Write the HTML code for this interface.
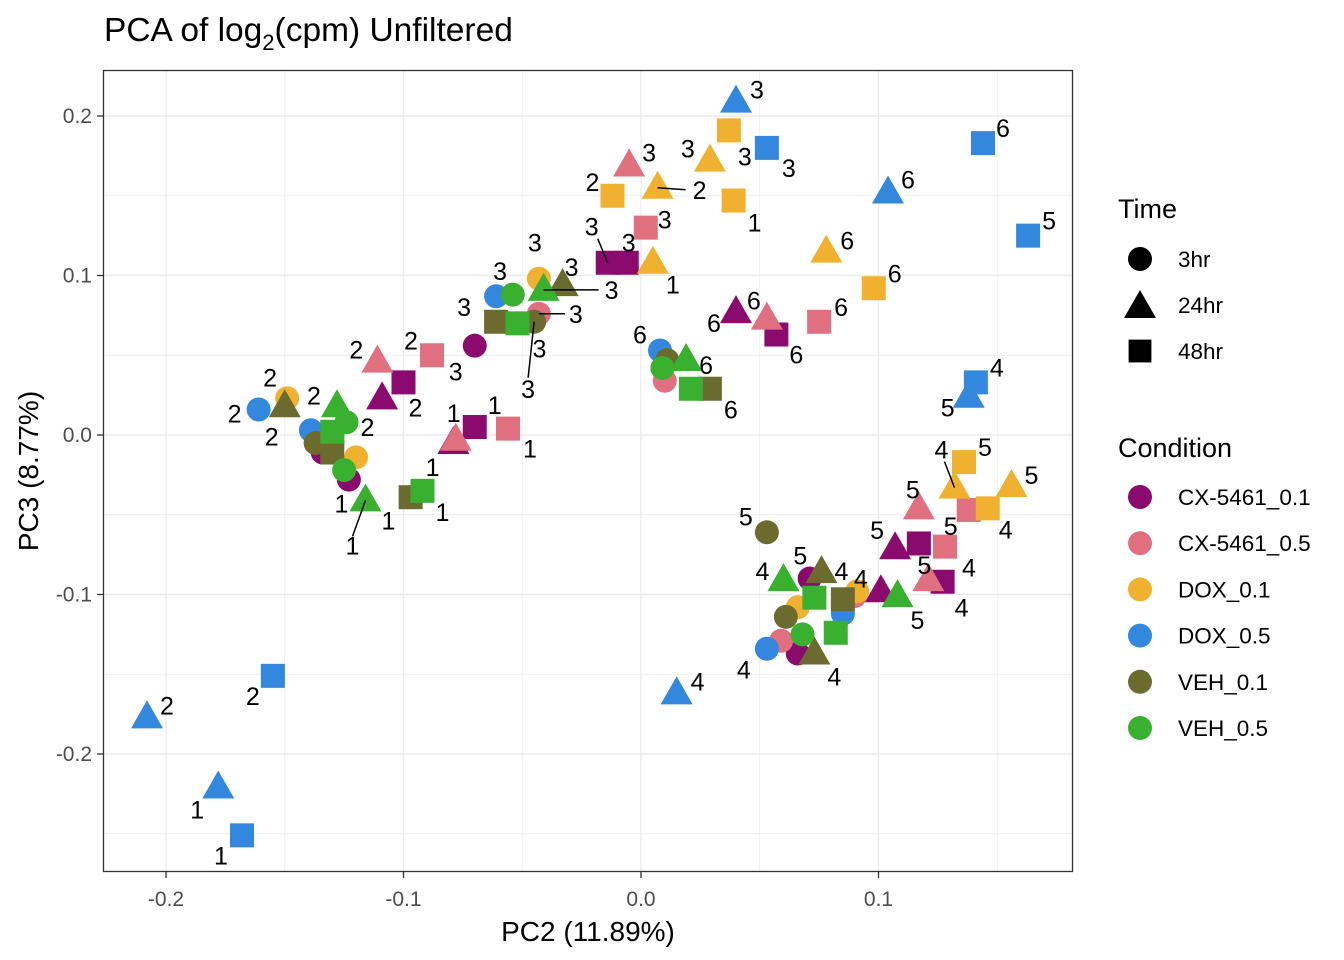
<!DOCTYPE html>
<html><head><meta charset="utf-8"><style>
body{margin:0;background:#fff;}
svg{display:block;font-family:"Liberation Sans",Arial,sans-serif;}
</style></head><body>
<svg id="chart" width="1344" height="960" viewBox="0 0 1344 960" xmlns="http://www.w3.org/2000/svg">
<rect width="1344" height="960" fill="#fff"/>
<text x="104" y="41" font-size="33.5" fill="#000">PCA of log<tspan font-size="22" dy="9">2</tspan><tspan dy="-9">(cpm) Unfiltered</tspan></text>
<g id="grid"></g>
<g id="marks"></g>
<g id="labels"></g>
<rect x="103.5" y="70.5" width="969" height="801" fill="none" stroke="#333" stroke-width="1.3"/>
<g id="axes"></g>
<text x="588" y="941" font-size="28" text-anchor="middle">PC2 (11.89%)</text>
<text transform="translate(38,471) rotate(-90)" font-size="28" text-anchor="middle">PC3 (8.77%)</text>
<g id="legend"></g>
</svg>
<script>
const conditions=["CX-5461_0.1","CX-5461_0.5","DOX_0.1","DOX_0.5","VEH_0.1","VEH_0.5"];
const condColors=["#8B0A6E","#E07080","#F0B030","#3388DD","#6B6B30","#3AB030"];
const times=["3hr","24hr","48hr"];
const xTicks=[-0.2,-0.1,0.0,0.1];
const xTickLabels=["-0.2","-0.1","0.0","0.1"];
const yTicks=[-0.2,-0.1,0.0,0.1,0.2];
const yTickLabels=["-0.2","-0.1","0.0","0.1","0.2"];
// points: [pc2, pc3, timeIndex(0 circle,1 tri,2 square), condIndex, label, labelDx, labelDy]
const pc2=[], pc3=[];
const points=[
[-0.014,0.108,2,0,"3",-16,-36],[-0.006,0.108,2,0,"3",2,-20],[-0.070,0.056,0,0,"3",-19,26],[-0.100,0.033,2,0,"2",12,25],[-0.109,0.023,1,0,"",0,0],[-0.070,0.005,2,0,"1",20,-22],[-0.079,-0.005,1,0,"",0,0],[-0.134,-0.011,0,0,"",0,0],[-0.123,-0.028,0,0,"",0,0],[0.040,0.077,1,0,"6",-22,11],[0.057,0.063,2,0,"6",20,20],[0.107,-0.071,1,0,"5",-18,-18],[0.117,-0.068,2,0,"",0,0],[0.101,-0.098,1,0,"4",-20,-13],[0.127,-0.092,2,0,"4",19,26],[0.071,-0.090,0,0,"",0,0],[0.066,-0.137,0,0,"",0,0],
[-0.005,0.169,1,1,"3",20,-13],[0.002,0.130,2,1,"3",19,-8],[-0.043,0.076,0,1,"3",37,0],[-0.111,0.046,1,1,"2",-21,-12],[-0.088,0.050,2,1,"2",-21,-15],[-0.078,-0.003,1,1,"1",-2,-27],[-0.056,0.004,2,1,"1",22,20],[0.053,0.073,1,1,"6",-13,-18],[0.075,0.071,2,1,"6",22,-15],[0.010,0.034,0,1,"",0,0],[0.117,-0.046,1,1,"5",-6,-19],[0.138,-0.047,2,1,"5",-18,16],[0.128,-0.070,2,1,"4",24,21],[0.121,-0.091,1,1,"5",-4,-15],[0.059,-0.129,0,1,"",0,0],[0.090,-0.101,0,1,"",0,0],
[0.037,0.191,2,2,"3",16,26],[0.029,0.172,1,2,"3",-22,-12],[0.007,0.155,1,2,"2",42,2],[-0.012,0.150,2,2,"2",-20,-14],[0.039,0.147,2,2,"1",21,22],[0.005,0.108,1,2,"1",20,22],[0.078,0.115,1,2,"6",21,-11],[0.098,0.092,2,2,"6",21,-15],[-0.043,0.098,0,2,"3",-4,-36],[-0.149,0.023,0,2,"2",-17,-21],[-0.120,-0.014,0,2,"",0,0],[0.136,-0.017,2,2,"5",21,-15],[0.132,-0.033,1,2,"4",-13,-38],[0.156,-0.032,1,2,"5",20,-11],[0.146,-0.046,2,2,"4",18,21],[0.066,-0.108,0,2,"",0,0],[0.091,-0.098,0,2,"",0,0],
[0.040,0.209,1,3,"3",21,-12],[0.053,0.180,2,3,"3",22,20],[0.144,0.183,2,3,"6",20,-15],[0.163,0.125,2,3,"5",21,-15],[0.104,0.152,1,3,"6",20,-13],[0.141,0.033,2,3,"4",21,-15],[0.138,0.024,1,3,"5",-21,11],[0.015,-0.162,1,3,"4",21,-12],[-0.208,-0.177,1,3,"2",20,-12],[-0.155,-0.151,2,3,"2",-20,20],[-0.178,-0.221,1,3,"1",-21,22],[-0.168,-0.251,2,3,"1",-21,20],[-0.061,0.087,0,3,"3",4,-25],[-0.161,0.016,0,3,"2",-24,4],[-0.139,0.003,0,3,"",0,0],[0.008,0.053,0,3,"6",-20,-16],[0.053,-0.134,0,3,"4",-23,21],[0.085,-0.112,0,3,"",0,0],
[-0.033,0.094,1,4,"3",9,-18],[-0.061,0.071,2,4,"3",-32,-15],[-0.045,0.071,0,4,"3",-6,67],[0.029,0.029,2,4,"6",21,21],[0.011,0.047,0,4,"",0,0],[-0.137,-0.005,0,4,"",0,0],[-0.130,-0.011,2,4,"",0,0],[-0.097,-0.039,2,4,"1",22,-30],[0.053,-0.061,0,4,"5",-21,-16],[0.076,-0.086,1,4,"4",20,-1],[0.061,-0.114,0,4,"",0,0],[0.085,-0.103,2,4,"",0,0],[0.073,-0.137,1,4,"4",20,23],[-0.150,0.018,1,4,"2",-13,30],[-0.130,-0.001,2,4,"",0,0],
[-0.054,0.088,0,5,"",0,0],[-0.052,0.070,2,5,"3",22,25],[-0.041,0.091,1,5,"3",68,0],[0.019,0.047,1,5,"6",20,5],[0.009,0.042,0,5,"",0,0],[0.021,0.029,2,5,"",0,0],[-0.128,0.018,1,5,"2",-23,-11],[-0.130,0.002,2,5,"",0,0],[-0.124,0.008,0,5,"2",21,5],[-0.125,-0.022,0,5,"",0,0],[-0.092,-0.035,2,5,"1",20,21],[-0.116,-0.041,1,5,"1",-24,3],[0.060,-0.091,1,5,"4",-21,-9],[0.073,-0.102,2,5,"5",-14,-42],[0.108,-0.101,1,5,"5",20,24],[0.082,-0.124,2,5,"",0,0],[0.068,-0.125,0,5,"",0,0]
];
points.forEach(p=>{pc2.push(p[0]);pc3.push(p[1]);});
const extraLabels=[[-0.116,-0.041,"1",-13,45],[-0.116,-0.041,"1",23,20]];
const connectors=[[-0.116,-0.041,-13,36],[0.007,0.155,28,2],[-0.045,0.071,-6,56],[-0.014,0.108,-10,-24],[0.132,-0.033,-10,-26],[-0.043,0.076,26,0],[-0.041,0.091,55,0]];

const X=v=>641+v*2375, Y=v=>435-v*1595;
const NS="http://www.w3.org/2000/svg";
function mk(tag,attrs,parent){const e=document.createElementNS(NS,tag);for(const k in attrs)e.setAttribute(k,attrs[k]);parent.appendChild(e);return e;}
const grid=document.getElementById('grid');
mk('rect',{x:103,y:70,width:970,height:802,fill:'#fff'},grid);
for(let v=-0.25;v<=0.151;v+=0.05){const x=X(v);if(x<103||x>1073)continue;const major=Math.abs(Math.round(v*20))%2===0;
 const l=mk('line',{x1:x,x2:x,y1:70,y2:872,stroke:'#ebebeb','stroke-width':major?1.4:0.7},grid);
 
 }
for(let v=-0.25;v<=0.251;v+=0.05){const y=Y(v);if(y<70||y>872)continue;const major=Math.abs(Math.round(v*20))%2===0;
 const l=mk('line',{y1:y,y2:y,x1:103,x2:1073,stroke:'#ebebeb','stroke-width':major?1.4:0.7},grid);
 
 }
const axes=document.getElementById('axes');
xTicks.forEach((v,i)=>{const x=X(v);mk('line',{x1:x,x2:x,y1:872,y2:878,stroke:'#333','stroke-width':1.3},axes);
 const t=mk('text',{x:x,y:906,'font-size':21,fill:'#4d4d4d','text-anchor':'middle'},axes);t.textContent=xTickLabels[i];
 
 });
yTicks.forEach((v,i)=>{const y=Y(v);mk('line',{x1:97,x2:103,y1:y,y2:y,stroke:'#333','stroke-width':1.3},axes);
 const t=mk('text',{x:92,y:y+7,'font-size':21,fill:'#4d4d4d','text-anchor':'end'},axes);t.textContent=yTickLabels[i];
 
 });
function shape(parent,shp,cx,cy,col,s){let e;
 if(shp===0)e=mk('circle',{cx:cx,cy:cy,r:12*s,fill:col},parent);
 else if(shp===1)e=mk('polygon',{points:`${cx},${cy-17*s} ${cx-16*s},${cy+11*s} ${cx+16*s},${cy+11*s}`,fill:col},parent);
 else e=mk('rect',{x:cx-12*s,y:cy-12*s,width:24*s,height:24*s,fill:col},parent);
 return e;}
const marks=document.getElementById('marks'), labels=document.getElementById('labels');
points.forEach((p,i)=>{const e=shape(marks,p[2],X(pc2[i]),Y(pc3[i]),condColors[p[3]],1);
 
 
 if(p[4]){const t=mk('text',{x:X(pc2[i])+p[5],y:Y(pc3[i])+p[6]+9,'font-size':25,'text-anchor':'middle',fill:'#000'},labels);t.textContent=p[4];
 
 }});
extraLabels.forEach(p=>{const t=mk('text',{x:X(p[0])+p[3],y:Y(p[1])+p[4]+9,'font-size':25,'text-anchor':'middle',fill:'#000'},labels);t.textContent=p[2];
 
 });
connectors.forEach(c=>{const l=mk('line',{x1:X(c[0]),y1:Y(c[1]),x2:X(c[0])+c[2],y2:Y(c[1])+c[3],stroke:'#000','stroke-width':1.5},labels);
 
 });
const lg=document.getElementById('legend');
let t=mk('text',{x:1118,y:218,'font-size':27},lg);t.textContent='Time';


times.forEach((tm,i)=>{const y=259+i*46;const e=shape(lg,i,1140,y+(i===1?2:0),'#000',i===1?1:(i===2?0.95:1));
 
 
 const tt=mk('text',{x:1178,y:y+8,'font-size':22.5},lg);tt.textContent=tm;
 
 });
t=mk('text',{x:1118,y:457,'font-size':27},lg);t.textContent='Condition';


conditions.forEach((c,i)=>{const y=497+i*46.2;const e=mk('circle',{cx:1140,cy:y,r:12,fill:condColors[i]},lg);
 
 
 const tt=mk('text',{x:1178,y:y+8,'font-size':22.5},lg);tt.textContent=c;
 
 });
</script>
</body></html>
